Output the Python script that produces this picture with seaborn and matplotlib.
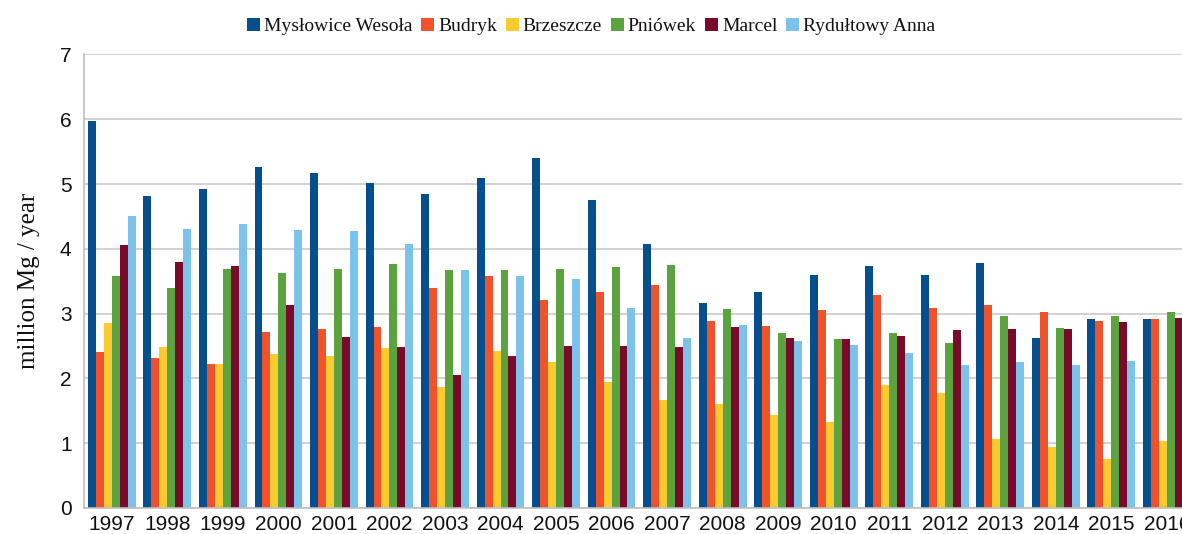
import numpy as np
import pandas as pd
import matplotlib
matplotlib.use("Agg")
import matplotlib.pyplot as plt
import seaborn as sns

years = [str(y) for y in range(1997, 2017)]
mines = ["Mysłowice Wesoła", "Budryk", "Brzeszcze", "Pniówek", "Marcel", "Rydułtowy Anna"]

myslowice = [5.97, 4.81, 4.93, 5.26, 5.17, 5.02, 4.84, 5.10, 5.40, 4.75,
             4.08, 3.16, 3.34, 3.60, 3.73, 3.59, 3.78, 2.62, 2.92, 2.92]
budryk = [2.41, 2.31, 2.22, 2.71, 2.76, 2.79, 3.40, 3.58, 3.21, 3.33,
          3.44, 2.89, 2.81, 3.06, 3.29, 3.08, 3.14, 3.02, 2.88, 2.91]
brzeszcze = [2.86, 2.49, 2.22, 2.38, 2.34, 2.47, 1.86, 2.42, 2.25, 1.95,
             1.67, 1.60, 1.44, 1.33, 1.90, 1.78, 1.07, 0.94, 0.76, 1.03]
pniowek = [3.58, 3.39, 3.69, 3.63, 3.69, 3.76, 3.67, 3.67, 3.69, 3.72,
           3.75, 3.07, 2.70, 2.61, 2.70, 2.55, 2.97, 2.78, 2.97, 3.02]
marcel = [4.06, 3.80, 3.74, 3.14, 2.64, 2.48, 2.06, 2.34, 2.50, 2.50,
          2.49, 2.80, 2.63, 2.61, 2.65, 2.75, 2.77, 2.76, 2.87, 2.93]
# last value cut off by the image edge in the source
rydultowy = [4.50, 4.30, 4.39, 4.29, 4.27, 4.08, 3.67, 3.58, 3.53, 3.08,
             2.63, 2.82, 2.57, 2.52, 2.39, 2.21, 2.26, 2.20, 2.27, np.nan]

colors = ["#064e8c", "#f0532b", "#f9cb31", "#5aa33f", "#790a29", "#7cc3ec"]

series = [myslowice, budryk, brzeszcze, pniowek, marcel, rydultowy]
rows = []
for mine, vals in zip(mines, series):
    for yr, v in zip(years, vals):
        rows.append({"year": yr, "mine": mine, "value": v})
df = pd.DataFrame(rows)

sns.set_style("white")
fig = plt.figure(figsize=(11.82, 5.34), dpi=100)
ax = fig.add_axes([0.0711, 0.0487, 0.9396, 0.8493])

sns.barplot(data=df, x="year", y="value", hue="mine", hue_order=mines,
            palette=colors, width=0.86, saturation=1, linewidth=0,
            ax=ax, legend=True)

ax.set_ylim(0, 7)
ax.set_xlim(-0.5, len(years) - 0.5)
ax.set_yticks(range(0, 8))
ax.yaxis.grid(True, color="#c9c9c9", linewidth=1.2)
ax.set_axisbelow(True)
for s in ["top", "right"]:
    ax.spines[s].set_visible(False)
for s in ["left", "bottom"]:
    ax.spines[s].set_color("#bfbfbf")
    ax.spines[s].set_linewidth(1.2)

ax.tick_params(axis="y", length=3, color="#bfbfbf", labelsize=15, pad=6,
               labelcolor="#111111")
ax.tick_params(axis="x", which="major", length=0, labelsize=15, pad=5,
               labelcolor="#111111")
ax.set_xticks(np.arange(-0.5, len(years), 1.0), minor=True)
ax.tick_params(axis="x", which="minor", length=4, color="#bfbfbf")

ax.set_xlabel("")
ax.set_ylabel("million Mg / year", family="Liberation Serif", fontsize=18,
              labelpad=14, color="#111111")
for lbl in ax.get_xticklabels() + ax.get_yticklabels():
    lbl.set_family("Liberation Sans")

handles, labels = ax.get_legend_handles_labels()
ax.legend_.remove()
fig.legend(handles, labels, loc="center", bbox_to_anchor=(0.5, 0.95), ncol=6,
           frameon=False, prop={"family": "Liberation Serif", "size": 14},
           handlelength=0.68, handleheight=0.68, handletextpad=0.2,
           columnspacing=0.45, labelcolor="#111111")

fig.savefig("out.png", dpi=100)
